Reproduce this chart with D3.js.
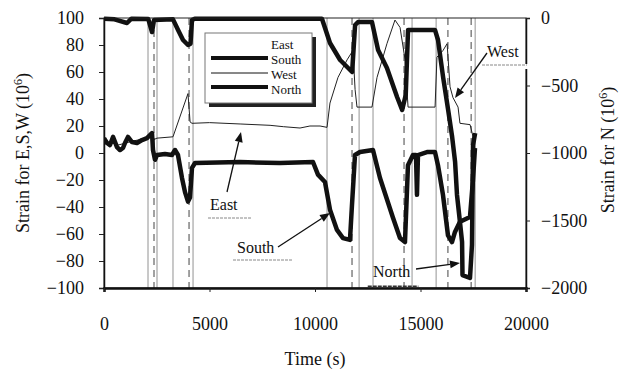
<!DOCTYPE html>
<html>
<head>
<meta charset="utf-8">
<script src="https://cdn.jsdelivr.net/npm/d3@7"></script>
<style>
  body { margin: 0; background: #fff; }
  svg { font-family: "Liberation Serif", "Times New Roman", serif; }
</style>
</head>
<body>
<div id="chart"></div>
<script>
// time (s) / strain values
const southT = [0, 142, 284, 427, 616, 758, 900, 995, 1137, 1327, 1564, 1801, 2038, 2180, 2275, 2322, 2417, 2512, 2890, 3222, 3365, 3507, 3696, 3839, 3981, 4076, 4170, 4313, 6445, 8340, 9905, 10141, 10473, 10710, 11042, 11326, 11658, 11753, 11895, 12132, 12748, 13080, 13696, 14027, 14264, 14406, 14643, 14786, 14833, 14880, 15307, 15686, 15828, 16065, 16302, 16492, 16634, 16871, 17345, 17487, 17582];
const southV = [11, 7.4, 5.9, 11.9, 4.4, 2.2, 3.7, 7.4, 11.9, 8.1, 7.4, 9.6, 11, 13.3, 14.8, 2.2, -5, -1.5, -0.7, -1.5, 2.2, -1.5, -18.5, -29, -36, -33, -11, -7.4, -6.7, -7.4, -6.7, -16, -21.5, -42, -57, -63, -64.4, -38.5, -1.5, 0.7, 2.2, -18.5, -48, -63, -66, -9, -1.5, -1.5, -31, -1.5, 0.7, 0.7, -9, -31, -61, -66, -58.5, -51, -47.4, -20, 3.7];

const eastT = [0, 700, 1400, 2100, 2275, 2370, 2512, 3270, 3980, 4080, 4170, 5000, 6450, 7870, 8500, 9290, 9760, 10240, 10570];
const eastV = [9, 6, 9, 11, 14, 10, 11, 12, 44, 23, 22, 22.5, 21.5, 20.5, 19.5, 18.5, 20, 20, 19];

const westT = [10570, 10710, 11090, 11520, 11800, 11900, 11990, 12700, 12940, 13410, 13790, 14030, 14270, 14410, 15690, 15780, 16070, 16260, 16400, 16540, 16780, 16870, 17350, 17490, 17560];
const westV = [19, 37, 56, 69, 76, 47, 34, 34, 56, 81, 98.5, 93, 69, 34, 34, 71, 76, 81, 49, 41, 34, 22, 21, 12, 7];

const northT = [0, 500, 1090, 1300, 2100, 2275, 2370, 3270, 3510, 3745, 3980, 4100, 4170, 4300, 10330, 10710, 11190, 11760, 11900, 12040, 12700, 12990, 13410, 13890, 14130, 14300, 14410, 14650, 15690, 15830, 16070, 16310, 16500, 16640, 16730, 16870, 16970, 16990, 17345, 17440, 17490, 17590];
const northV = [-5, -10, -37, -5, -8, -104, -15, -10, -89, -163, -200, -190, -15, -5, -5, -185, -311, -400, -52, -30, -30, -237, -370, -585, -681, -570, -89, -89, -89, -163, -437, -681, -881, -1067, -1311, -1511, -1659, -1904, -1926, -1681, -941, -852];

// event markers (s)
const solidMarks = [2086, 2512, 3270, 4220, 10570, 12090, 12750, 14600, 15740, 17590];
const dashedMarks = [2370, 4030, 11755, 14220, 16300, 17400];

const xTicks = [0, 5000, 10000, 15000, 20000];
const leftTicks = [100, 80, 60, 40, 20, 0, -20, -40, -60, -80, -100];
const rightTicks = [0, -500, -1000, -1500, -2000];
const legendNames = ['East', 'South', 'West', 'North'];

const W = 623, H = 371;
const margin = { left: 104, right: 97, top: 18, bottom: 83 };

const svg = d3.select('#chart').append('svg')
  .attr('width', W)
  .attr('height', H);

const x = d3.scaleLinear().domain([0, 20000]).range([margin.left, W - margin.right]);
const yL = d3.scaleLinear().domain([-100, 100]).range([H - margin.bottom, margin.top]);
const yR = d3.scaleLinear().domain([-2000, 0]).range([H - margin.bottom, margin.top]);

svg.append('clipPath').attr('id', 'plot')
  .append('rect')
  .attr('x', margin.left).attr('y', margin.top - 3)
  .attr('width', x(20000) - margin.left).attr('height', yL(-100) - margin.top + 3);

const g = svg.append('g').attr('clip-path', 'url(#plot)');

// vertical event lines
g.selectAll('line.solid')
  .data(solidMarks)
  .join('line')
  .attr('class', 'solid')
  .attr('x1', d => x(d)).attr('x2', d => x(d))
  .attr('y1', yL(100)).attr('y2', yL(-100))
  .attr('stroke', '#777').attr('stroke-width', 0.8);

g.selectAll('line.dashed')
  .data(dashedMarks)
  .join('line')
  .attr('class', 'dashed')
  .attr('x1', d => x(d)).attr('x2', d => x(d))
  .attr('y1', yL(100)).attr('y2', yL(-100))
  .attr('stroke', '#444').attr('stroke-width', 1)
  .attr('stroke-dasharray', '7,5');

const zip = (ts, vs) => ts.map((t, i) => [t, vs[i]]);
const lineL = d3.line().x(d => x(d[0])).y(d => yL(d[1]));
const lineR = d3.line().x(d => x(d[0])).y(d => yR(d[1]));

g.append('path').datum(zip(eastT, eastV))
  .attr('d', lineL).attr('fill', 'none')
  .attr('stroke', '#222').attr('stroke-width', 1);
g.append('path').datum(zip(westT, westV))
  .attr('d', lineL).attr('fill', 'none')
  .attr('stroke', '#222').attr('stroke-width', 1);
g.append('path').datum(zip(southT, southV))
  .attr('d', lineL).attr('fill', 'none')
  .attr('stroke', '#111').attr('stroke-width', 4.5)
  .attr('stroke-linejoin', 'round');
g.append('path').datum(zip(northT, northV))
  .attr('d', lineR).attr('fill', 'none')
  .attr('stroke', '#111').attr('stroke-width', 4.5)
  .attr('stroke-linejoin', 'round');

// frame
svg.append('rect')
  .attr('x', margin.left).attr('y', margin.top)
  .attr('width', x(20000) - margin.left).attr('height', yL(-100) - margin.top)
  .attr('fill', 'none').attr('stroke', '#222').attr('stroke-width', 1);

// axes
const fontSize = 18;
const axL = svg.append('g')
  .attr('transform', `translate(${margin.left},0)`)
  .call(d3.axisLeft(yL).tickValues(leftTicks).tickSize(5).tickPadding(15).tickFormat(d3.format('d')));
const axR = svg.append('g')
  .attr('transform', `translate(${x(20000)},0)`)
  .call(d3.axisRight(yR).tickValues(rightTicks).tickSize(4).tickPadding(11).tickFormat(d3.format('d')));
const axB = svg.append('g')
  .attr('transform', `translate(0,${yL(-100)})`)
  .call(d3.axisBottom(x).tickValues(xTicks).tickSize(4).tickPadding(25).tickFormat(d3.format('d')));

[axL, axR, axB].forEach(a => {
  a.select('.domain').attr('stroke', '#111').attr('stroke-width', 1.5);
  a.selectAll('text').attr('font-size', fontSize).attr('fill', '#111')
    .attr('font-family', '"Liberation Serif", serif');
  a.selectAll('.tick line').attr('stroke', '#222');
});
axB.select('.domain').attr('stroke-width', 2.5);

// axis titles
function titleWithSup(sel, main) {
  sel.append('tspan').text(main + ' (10');
  sel.append('tspan').text('6').attr('font-size', 12).attr('dy', -7);
  sel.append('tspan').text(')').attr('dy', 7);
}
const tl = svg.append('text')
  .attr('transform', `translate(29,${yL(0)}) rotate(-90)`)
  .attr('text-anchor', 'middle').attr('font-size', fontSize).attr('fill', '#111');
titleWithSup(tl, 'Strain for E,S,W');

const tr = svg.append('text')
  .attr('transform', `translate(614,${yL(0) - 3}) rotate(-90)`)
  .attr('text-anchor', 'middle').attr('font-size', fontSize).attr('fill', '#111');
titleWithSup(tr, 'Strain for N');

svg.append('text')
  .attr('x', (x(0) + x(20000)) / 2).attr('y', 365)
  .attr('text-anchor', 'middle').attr('font-size', fontSize).attr('fill', '#111')
  .text('Time (s)');

// legend
const lg = svg.append('g').attr('transform', 'translate(205,33)');
lg.append('rect').attr('x', 4).attr('y', 4).attr('width', 107).attr('height', 70).attr('fill', '#222');
lg.append('rect').attr('x', 0).attr('y', 0).attr('width', 107).attr('height', 70)
  .attr('fill', '#fff').attr('stroke', '#777').attr('stroke-width', 1);
const rowY = [11, 26, 41, 56];
lg.selectAll('text')
  .data(legendNames)
  .join('text')
  .attr('x', 66).attr('y', (d, i) => rowY[i] + 4.5)
  .attr('font-size', 13).attr('fill', '#111')
  .text(d => d);
const samples = [{ y: 25, w: 4 }, { y: 40, w: 1 }, { y: 54, w: 4 }];
lg.selectAll('line.sample')
  .data(samples)
  .join('line')
  .attr('class', 'sample')
  .attr('x1', 6).attr('x2', 63)
  .attr('y1', d => d.y).attr('y2', d => d.y)
  .attr('stroke', '#111').attr('stroke-width', d => d.w);

// annotations
const notes = [
  { label: 'East', lx: 210, ly: 210, from: [227, 192], to: [241, 132], ux: [208, 252, 218] },
  { label: 'South', lx: 237, ly: 253, from: [278, 247], to: [330, 213], ux: [233, 293, 260] },
  { label: 'North', lx: 373, ly: 277, from: [416, 269], to: [460, 263], ux: null },
  { label: 'West', lx: 487, ly: 57, from: [487, 53], to: [455, 98], ux: [482, 527, 65] }
];
const ann = svg.append('g');
notes.forEach(n => {
  if (n.ux) {
    ann.append('rect').attr('x', n.ux[0] - 2).attr('y', n.ux[2] - 1)
      .attr('width', n.ux[1] - n.ux[0] + 4).attr('height', 5).attr('fill', '#fff');
    ann.append('line').attr('x1', n.ux[0]).attr('x2', n.ux[1])
      .attr('y1', n.ux[2]).attr('y2', n.ux[2])
      .attr('stroke', '#888').attr('stroke-width', 1).attr('stroke-dasharray', '3,1');
  }
  ann.append('text').attr('x', n.lx).attr('y', n.ly)
    .attr('font-size', 16).attr('fill', '#111').text(n.label);
  const [x1, y1] = n.from, [x2, y2] = n.to;
  const ang = Math.atan2(y2 - y1, x2 - x1);
  const hl = 10, hw = 4;
  const bx = x2 - hl * Math.cos(ang), by = y2 - hl * Math.sin(ang);
  ann.append('line').attr('x1', x1).attr('y1', y1).attr('x2', bx).attr('y2', by)
    .attr('stroke', '#111').attr('stroke-width', 1.3);
  ann.append('path')
    .attr('d', `M${x2},${y2}L${bx + hw * Math.sin(ang)},${by - hw * Math.cos(ang)}L${bx - hw * Math.sin(ang)},${by + hw * Math.cos(ang)}Z`)
    .attr('fill', '#111');
});

// dark smudge on bottom axis near 15000
svg.append('line')
  .attr('x1', x(12500)).attr('x2', x(14900))
  .attr('y1', yL(-100) - 1.5).attr('y2', yL(-100) - 1.5)
  .attr('stroke', '#333').attr('stroke-width', 2).attr('stroke-dasharray', '4,1');
</script>
</body>
</html>
